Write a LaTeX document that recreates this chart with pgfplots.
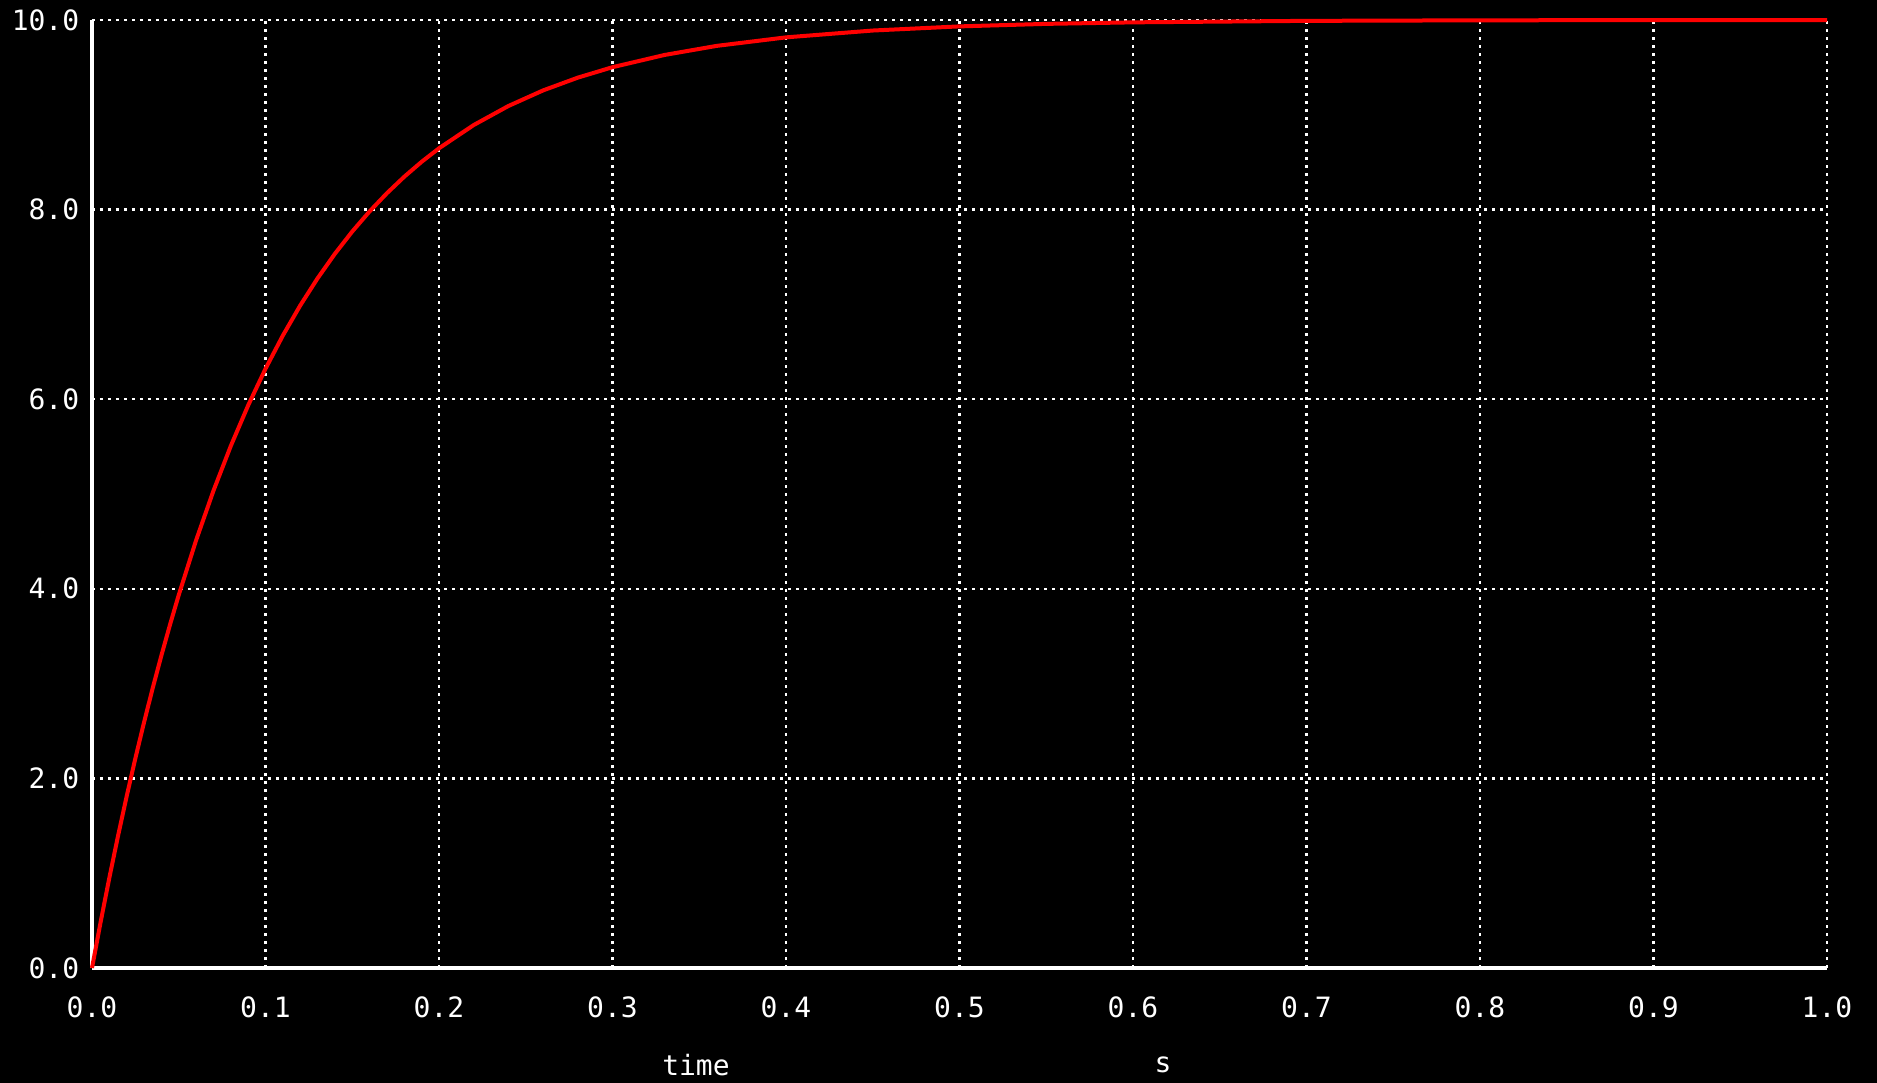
\documentclass[border=0pt]{standalone}
\usepackage{fontspec}
\setmainfont{DejaVu Sans Mono}
\usepackage{pgfplots}
\pgfplotsset{compat=1.18}
\begin{document}
\begin{tikzpicture}
\fill[black] (-23pt,-28.75pt) rectangle (446.25pt,242pt);
\begin{axis}[
  at={(0,0)}, anchor=south west,
  scale only axis, width=433.75pt, height=237pt,
  xmin=0, xmax=1, ymin=0, ymax=10,
  xtick={0,0.1,...,1.0}, ytick={0,2,...,10},
  axis x line=bottom, axis y line=left,
  axis line style={-, white, line width=1pt},
  major tick length=0pt,
  grid=major,
  grid style={white, line width=0.6pt, dash pattern=on 0.75pt off 1.25pt},
  /pgf/number format/assume math mode=true,
  /pgf/number format/.cd, fixed, fixed zerofill, precision=1, /pgfplots/.cd,
  ticklabel style={text=white, font=\fontsize{7}{8}\selectfont},
  xticklabel style={anchor=north, inner sep=0pt, yshift=-7pt},
  yticklabel style={anchor=east, inner sep=0pt, xshift=-3pt},
  clip=false,
]
\addplot[red, line width=1pt] coordinates {
(0,0) (0.005,0.4877) (0.01,0.9516) (0.015,1.3929) (0.02,1.8127) (0.025,2.2120)
(0.03,2.5918) (0.035,2.9531) (0.04,3.2968) (0.045,3.6237) (0.05,3.9347)
(0.06,4.5119) (0.07,5.0341) (0.08,5.5067) (0.09,5.9343) (0.10,6.3212)
(0.11,6.6713) (0.12,6.9881) (0.13,7.2747) (0.14,7.5340) (0.15,7.7687)
(0.16,7.9810) (0.17,8.1732) (0.18,8.3470) (0.19,8.5043) (0.20,8.6466)
(0.22,8.8920) (0.24,9.0928) (0.26,9.2573) (0.28,9.3919) (0.30,9.5021)
(0.33,9.6312) (0.36,9.7268) (0.40,9.8168) (0.45,9.8889) (0.50,9.9326)
(0.55,9.9591) (0.60,9.9752) (0.70,9.9909) (0.80,9.9966) (0.90,9.9988) (1.00,9.9995)
};
\end{axis}
\node[text=white, font=\fontsize{7}{8}\selectfont] at (151pt,-24.25pt) {time};
\node[text=white, font=\fontsize{7}{8}\selectfont] at (267.75pt,-24.25pt) {s};
\pgfresetboundingbox
\useasboundingbox (-23pt,-28.75pt) rectangle (446.25pt,242pt);
\end{tikzpicture}
\end{document}
